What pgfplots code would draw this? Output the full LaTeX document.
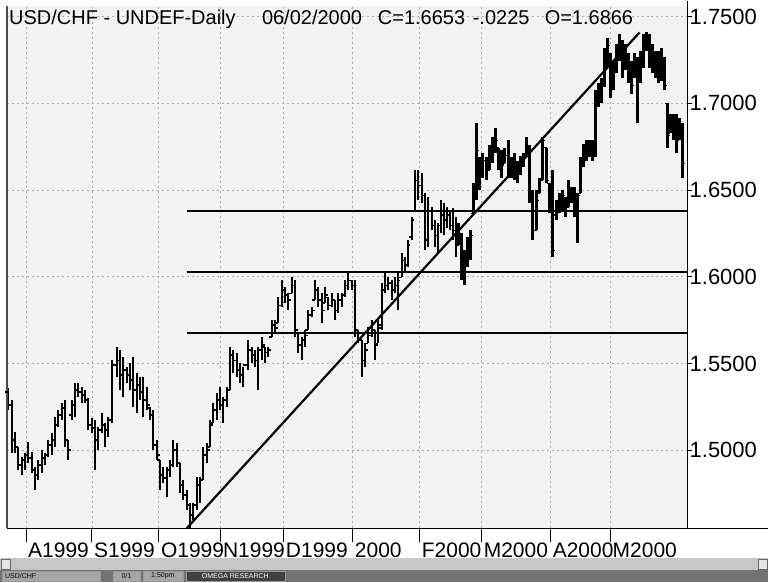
\documentclass[border=0pt]{standalone}
\usepackage{pgfplots}
\pgfplotsset{compat=1.18}
\usepackage{pgfplotstable}
\usepackage{fontspec}
\setmainfont{Liberation Sans}

\pgfdeclareplotmark{otick}{\pgfpathmoveto{\pgfqpoint{-2.8pt}{0pt}}\pgfpathlineto{\pgfqpoint{0pt}{0pt}}\pgfusepathqstroke}
\pgfdeclareplotmark{ctick}{\pgfpathmoveto{\pgfqpoint{0pt}{0pt}}\pgfpathlineto{\pgfqpoint{2.8pt}{0pt}}\pgfusepathqstroke}

% daily bars: x position, low, high, open, close
\pgfplotstableread{
x L H O C
8 1.5230 1.5357 1.5334 1.5259
12 1.4983 1.5288 1.5259 1.5058
15 1.4983 1.5104 1.5058 1.5017
18 1.4885 1.5017 1.5017 1.4914
22 1.4856 1.4960 1.4914 1.4942
25 1.4885 1.4983 1.4942 1.4971
28 1.4925 1.5046 1.4971 1.4954
32 1.4868 1.4988 1.4954 1.4885
35 1.4770 1.4902 1.4885 1.4856
38 1.4827 1.4942 1.4856 1.4914
42 1.4868 1.5000 1.4914 1.4954
45 1.4914 1.4983 1.4954 1.4971
48 1.4960 1.5058 1.4971 1.5029
52 1.4971 1.5098 1.5029 1.5058
55 1.5017 1.5190 1.5058 1.5144
58 1.5132 1.5230 1.5144 1.5202
62 1.5173 1.5271 1.5202 1.5242
65 1.5017 1.5288 1.5242 1.5058
68 1.4942 1.5058 1.5058 1.5000
72 1.5173 1.5288 1.5202 1.5259
75 1.5190 1.5386 1.5259 1.5346
78 1.5305 1.5386 1.5346 1.5334
82 1.5271 1.5363 1.5334 1.5317
85 1.5271 1.5346 1.5317 1.5288
88 1.5115 1.5300 1.5288 1.5144
92 1.5098 1.5184 1.5144 1.5127
95 1.4885 1.5173 1.5127 1.5058
98 1.5000 1.5132 1.5058 1.5115
102 1.5098 1.5213 1.5115 1.5144
105 1.5017 1.5156 1.5144 1.5115
108 1.5075 1.5190 1.5115 1.5173
112 1.5156 1.5518 1.5173 1.5490
117 1.5420 1.5593 1.5490 1.5518
120 1.5346 1.5576 1.5518 1.5432
123 1.5305 1.5536 1.5432 1.5461
127 1.5386 1.5478 1.5461 1.5432
130 1.5346 1.5501 1.5432 1.5403
133 1.5248 1.5536 1.5403 1.5346
137 1.5213 1.5444 1.5346 1.5374
140 1.5288 1.5420 1.5374 1.5334
143 1.5190 1.5420 1.5334 1.5288
147 1.5230 1.5363 1.5288 1.5259
150 1.5173 1.5248 1.5242 1.5202
153 1.5000 1.5230 1.5202 1.5029
157 1.4942 1.5058 1.5029 1.4971
160 1.4770 1.4942 1.4942 1.4856
163 1.4810 1.4902 1.4856 1.4839
167 1.4729 1.4902 1.4839 1.4885
170 1.4844 1.4942 1.4885 1.4914
173 1.4902 1.5058 1.4914 1.5000
177 1.4902 1.5040 1.5000 1.4925
180 1.4752 1.4925 1.4925 1.4798
183 1.4712 1.4827 1.4798 1.4741
187 1.4654 1.4770 1.4741 1.4683
190 1.4551 1.4695 1.4683 1.4626
193 1.4597 1.4695 1.4626 1.4683
197 1.4654 1.4844 1.4683 1.4798
200 1.4695 1.4844 1.4798 1.4827
203 1.4827 1.5017 1.4827 1.4971
207 1.4925 1.5040 1.4971 1.5000
210 1.5017 1.5173 1.5017 1.5144
213 1.5156 1.5271 1.5156 1.5230
217 1.5173 1.5328 1.5230 1.5288
220 1.5230 1.5363 1.5288 1.5259
223 1.5156 1.5305 1.5259 1.5288
227 1.5248 1.5363 1.5288 1.5346
230 1.5346 1.5593 1.5346 1.5547
233 1.5444 1.5576 1.5547 1.5518
237 1.5420 1.5559 1.5518 1.5461
240 1.5386 1.5501 1.5461 1.5432
243 1.5363 1.5478 1.5432 1.5490
248 1.5461 1.5634 1.5490 1.5576
252 1.5501 1.5593 1.5576 1.5547
255 1.5478 1.5576 1.5547 1.5518
258 1.5346 1.5593 1.5518 1.5576
262 1.5518 1.5651 1.5576 1.5605
265 1.5501 1.5593 1.5593 1.5564
268 1.5536 1.5593 1.5564 1.5576
272 1.5651 1.5749 1.5651 1.5720
275 1.5674 1.5749 1.5720 1.5703
278 1.5732 1.5881 1.5732 1.5835
282 1.5824 1.5979 1.5835 1.5922
285 1.5847 1.5939 1.5922 1.5893
288 1.5806 1.5904 1.5893 1.5864
292 1.5904 1.5996 1.5904 1.5950
295 1.5651 1.5979 1.5950 1.5691
298 1.5559 1.5674 1.5674 1.5605
302 1.5518 1.5651 1.5605 1.5634
305 1.5593 1.5691 1.5634 1.5662
308 1.5691 1.5806 1.5691 1.5778
312 1.5766 1.5824 1.5778 1.5806
315 1.5864 1.5979 1.5864 1.5922
318 1.5824 1.5939 1.5922 1.5864
322 1.5732 1.5904 1.5864 1.5806
325 1.5847 1.5939 1.5847 1.5893
328 1.5806 1.5881 1.5881 1.5835
332 1.5824 1.5904 1.5835 1.5864
335 1.5749 1.5864 1.5864 1.5806
338 1.5789 1.5904 1.5806 1.5864
342 1.5824 1.5904 1.5864 1.5893
345 1.5881 1.5979 1.5893 1.5950
348 1.5922 1.6020 1.5950 1.5979
352 1.5922 1.5979 1.5979 1.5950
355 1.5651 1.5979 1.5950 1.5691
358 1.5616 1.5691 1.5691 1.5634
362 1.5420 1.5634 1.5634 1.5518
365 1.5478 1.5616 1.5518 1.5576
368 1.5616 1.5708 1.5616 1.5662
372 1.5651 1.5749 1.5662 1.5691
375 1.5518 1.5691 1.5691 1.5605
378 1.5616 1.5749 1.5616 1.5720
382 1.5691 1.5962 1.5703 1.5922
385 1.5904 1.6020 1.5922 1.5950
388 1.5922 1.5996 1.5950 1.5962
392 1.5864 1.5979 1.5962 1.5922
395 1.5904 1.5996 1.5922 1.5950
398 1.5806 1.6020 1.5950 1.5979
402 1.5996 1.6135 1.5996 1.6094
405 1.6020 1.6112 1.6094 1.6066
408 1.6054 1.6210 1.6066 1.6181
412 1.6210 1.6342 1.6227 1.6325
415 1.6382 1.6613 1.6382 1.6555
418 1.6440 1.6613 1.6555 1.6526
422 1.6423 1.6596 1.6526 1.6469
425 1.6152 1.6480 1.6469 1.6210
428 1.6169 1.6457 1.6210 1.6382
432 1.6267 1.6400 1.6382 1.6296
435 1.6169 1.6325 1.6296 1.6238
438 1.6135 1.6308 1.6238 1.6296
441 1.6250 1.6440 1.6296 1.6354
444 1.6238 1.6423 1.6354 1.6325
447 1.6284 1.6400 1.6325 1.6354
450 1.6267 1.6382 1.6354 1.6296
453 1.6210 1.6394 1.6296 1.6267
456 1.6112 1.6342 1.6267 1.6181
459 1.6181 1.6308 1.6181 1.6238
462 1.5979 1.6250 1.6238 1.6037
465 1.5950 1.6152 1.6037 1.6094
468 1.6054 1.6227 1.6094 1.6181
471 1.6094 1.6267 1.6181 1.6238
474 1.6365 1.6538 1.6365 1.6498
477 1.6440 1.6884 1.6498 1.6728
480 1.6498 1.6688 1.6688 1.6613
483 1.6572 1.6711 1.6613 1.6670
487 1.6555 1.6688 1.6670 1.6613
490 1.6613 1.6757 1.6613 1.6728
493 1.6653 1.6803 1.6728 1.6757
496 1.6711 1.6860 1.6757 1.6786
499 1.6613 1.6745 1.6745 1.6670
502 1.6572 1.6728 1.6670 1.6642
505 1.6653 1.6745 1.6653 1.6699
509 1.6572 1.6786 1.6699 1.6613
512 1.6572 1.6688 1.6613 1.6670
515 1.6555 1.6711 1.6670 1.6584
518 1.6538 1.6670 1.6584 1.6642
521 1.6584 1.6699 1.6642 1.6670
524 1.6630 1.6711 1.6670 1.6699
527 1.6688 1.6803 1.6699 1.6757
530 1.6423 1.6757 1.6757 1.6440
533 1.6210 1.6498 1.6440 1.6267
537 1.6267 1.6498 1.6267 1.6440
540 1.6480 1.6572 1.6480 1.6555
543 1.6555 1.6803 1.6555 1.6786
547 1.6538 1.6745 1.6745 1.6555
550 1.6365 1.6538 1.6538 1.6382
553 1.6112 1.6613 1.6382 1.6152
557 1.6325 1.6440 1.6354 1.6411
560 1.6365 1.6480 1.6411 1.6440
563 1.6382 1.6498 1.6440 1.6469
566 1.6342 1.6457 1.6457 1.6382
569 1.6400 1.6555 1.6400 1.6498
572 1.6423 1.6515 1.6498 1.6469
575 1.6342 1.6515 1.6469 1.6411
578 1.6192 1.6480 1.6411 1.6469
581 1.6480 1.6688 1.6480 1.6642
584 1.6630 1.6768 1.6642 1.6728
587 1.6670 1.6786 1.6728 1.6757
590 1.6688 1.6786 1.6757 1.6728
593 1.6670 1.6786 1.6728 1.6757
596 1.6688 1.7074 1.6728 1.7045
599 1.6976 1.7114 1.7045 1.7074
602 1.6999 1.7148 1.7074 1.7131
605 1.7091 1.7321 1.7131 1.7275
608 1.7206 1.7379 1.7275 1.7333
611 1.7033 1.7287 1.7275 1.7102
614 1.7074 1.7246 1.7102 1.7189
617 1.7172 1.7344 1.7189 1.7304
620 1.7246 1.7402 1.7304 1.7362
623 1.7148 1.7362 1.7362 1.7218
626 1.7189 1.7344 1.7218 1.7275
629 1.7114 1.7287 1.7275 1.7160
632 1.7056 1.7246 1.7160 1.7102
635 1.7148 1.7287 1.7148 1.7246
638 1.6884 1.7264 1.7246 1.7160
641 1.7114 1.7304 1.7160 1.7246
644 1.7206 1.7402 1.7246 1.7362
647 1.7304 1.7408 1.7362 1.7333
650 1.7206 1.7402 1.7333 1.7246
653 1.7172 1.7344 1.7246 1.7218
656 1.7148 1.7304 1.7218 1.7189
659 1.7114 1.7304 1.7189 1.7160
662 1.7131 1.7321 1.7160 1.7218
665 1.7074 1.7264 1.7218 1.7102
668 1.6745 1.6999 1.6999 1.6814
671 1.6826 1.6941 1.6826 1.6901
674 1.6786 1.6941 1.6901 1.6843
677 1.6711 1.6941 1.6843 1.6786
680 1.6786 1.6918 1.6786 1.6872
683 1.6572 1.6884 1.6866 1.6653
}\bars

\begin{document}
\begin{tikzpicture}
\begin{axis}[
  scale only axis, width=681pt, height=523pt,
  xmin=7, xmax=688, ymin=1.4551, ymax=1.7563,
  axis background/.style={fill=black!5},
  axis line style={draw=none},
  clip=false,
  tick align=outside,
  xtick pos=bottom, ytick pos=right, yticklabel pos=right,
  major tick length=5pt, minor tick length=8pt,
  tick style={black, line width=0.9pt},
  ytick={1.5,1.55,1.6,1.65,1.7,1.75},
  yticklabels={1.5000,1.5500,1.6000,1.6500,1.7000,1.7500},
  yticklabel style={font=\fontsize{22}{24}\selectfont, anchor=west, inner sep=0pt, xshift=-3pt},
  ymajorgrids,
  major grid style={black!32, dash pattern=on 2pt off 3pt, line width=0.8pt},
  xtick=\empty,
  minor xtick={7.8,23.4,...,688},
  extra x ticks={26,92,159,221,284,353,420,482,551,611},
  extra x tick labels={A1999,S1999,O1999,N1999,D1999,2000,F2000,M2000,A2000,M2000},
  extra x tick style={major tick length=14pt, grid=major,
     xticklabel style={font=\fontsize{21}{24}\selectfont, anchor=north west, inner sep=0pt, xshift=2pt, yshift=0pt}},
]
% page extent (image 769 x 582 px, axis box from x=7..688, y=5..528)
\path (rel axis cs:-0.01028,-0.10325) rectangle (rel axis cs:1.11894,1.00956);
% OHLC bars
\addplot[draw=none, mark=none, forget plot,
  error bars/.cd, y dir=plus, y explicit, error mark=none,
  error bar style={line width=2.3pt, black}]
  table[x=x, y=L, y error expr=\thisrow{H}-\thisrow{L}] {\bars};
\addplot[only marks, mark=otick, mark options={line width=1.8pt, black}] table[x=x, y=O] {\bars};
\addplot[only marks, mark=ctick, mark options={line width=1.8pt, black}] table[x=x, y=C] {\bars};
% drawn studies
\addplot[black, line width=2.2pt] coordinates {(187,1.4551) (640,1.7408)};
\addplot[black, line width=2pt] coordinates {(187,1.6377) (688,1.6377)};
\addplot[black, line width=2pt] coordinates {(187,1.6025) (688,1.6025)};
\addplot[black, line width=2pt] coordinates {(187,1.5674) (688,1.5674)};
% frame lines
\draw[black, line width=1.2pt] (rel axis cs:0,0) -- (rel axis cs:1.11894,0);
\draw[black, line width=1.2pt] (rel axis cs:1,0) -- (rel axis cs:1,1.00956);
\draw[black!70, line width=1.2pt] (rel axis cs:0,0) -- (rel axis cs:0,1);
% title
\begin{scope}[every node/.style={anchor=base west, inner sep=0pt, font=\fontsize{20}{24}\selectfont}]
\node at (rel axis cs:0.00294,0.96367) {USD/CHF - UNDEF-Daily};
\node at (rel axis cs:0.37445,0.96367) {06/02/2000};
\node at (rel axis cs:0.54479,0.96367) {C=1.6653};
\node at (rel axis cs:0.68429,0.96367) {-.0225};
\node at (rel axis cs:0.79001,0.96367) {O=1.6866};
\end{scope}
% window scroll bar and status bar
\fill[black!22] (rel axis cs:-0.01028,-0.05736) rectangle (rel axis cs:1.11894,-0.08031);
\draw[black!60, fill=black!10] (rel axis cs:-0.00881,-0.05927) rectangle (rel axis cs:0.00441,-0.07839);
\draw[black!60, fill=black!10] (rel axis cs:1.10426,-0.05927) rectangle (rel axis cs:1.11747,-0.07839);
\fill[black!55] (rel axis cs:-0.01028,-0.08031) rectangle (rel axis cs:1.11894,-0.10325);
\begin{scope}[every node/.style={inner sep=0pt, font=\fontsize{7}{8}\selectfont}]
\draw[black!40, fill=black!35] (rel axis cs:-0.00734,-0.08222) rectangle (rel axis cs:0.13656,-0.10134);
\node[anchor=west, black] at (rel axis cs:-0.00300,-0.09178) {USD/CHF};
\draw[black!40, fill=black!35] (rel axis cs:0.15565,-0.08222) rectangle (rel axis cs:0.19530,-0.10134);
\node[black] at (rel axis cs:0.17548,-0.09178) {0/1};
\draw[black!40, fill=black!35] (rel axis cs:0.19971,-0.08222) rectangle (rel axis cs:0.25844,-0.10134);
\node[black] at (rel axis cs:0.22908,-0.09178) {1:50pm};
\draw[black!40, fill=black!75] (rel axis cs:0.26285,-0.08222) rectangle (rel axis cs:0.40822,-0.10134);
\node[white] at (rel axis cs:0.33554,-0.09178) {OMEGA RESEARCH};
\end{scope}
\end{axis}
\end{tikzpicture}
\end{document}
